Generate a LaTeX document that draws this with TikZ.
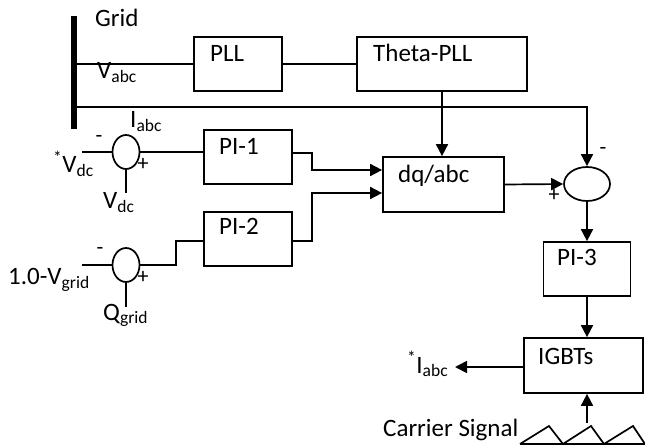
\documentclass[tikz,border=0pt]{standalone}
\usepackage{fontspec}
\setmainfont{Carlito}
\usetikzlibrary{arrows.meta,shapes.geometric}
\begin{document}
\begin{tikzpicture}[x=1pt,y=-1pt,
  every node/.style={font=\fontsize{25}{28}\selectfont},
  ln/.style={line width=1.7pt},
  arr/.style={ln,-{Triangle[length=12pt,width=12pt]}},
  blk/.style={draw,line width=1.7pt,inner sep=0pt},
  sumc/.style={draw,ellipse,line width=1.7pt,inner sep=0pt},
  lbl/.style={anchor=base west,inner sep=0pt},
  sgn/.style={inner sep=0pt,font=\fontsize{22}{24}\selectfont}]
\useasboundingbox (0,0) rectangle (645,446);
% grid bar
\node[fill,inner sep=0pt,minimum width=6pt,minimum height=113pt] (grid) at (74,72.5) {};
\node[lbl] (gridt) at (95,27) {Grid};
% blocks
\node[blk,minimum width=88pt,minimum height=54pt] (pll) at (238,64) {};
\node[lbl] (pllt) at (210,62) {PLL};
\node[blk,minimum width=170pt,minimum height=54pt] (theta) at (442,64) {};
\node[lbl] (thetat) at (373,62) {Theta-PLL};
\node[blk,minimum width=121pt,minimum height=55pt] (dq) at (443.5,184.5) {};
\node[lbl] (dqt) at (398,183) {dq/abc};
\node[blk,minimum width=88pt,minimum height=54pt] (pi1) at (248,157) {};
\node[lbl] (pi1t) at (219,155) {PI-1};
\node[blk,minimum width=88pt,minimum height=54pt] (pi2) at (248,239) {};
\node[lbl] (pi2t) at (219,235) {PI-2};
\node[blk,minimum width=87pt,minimum height=54pt] (pi3) at (587,269) {};
\node[lbl] (pi3t) at (557,266) {PI-3};
\node[blk,minimum width=119pt,minimum height=55pt] (igbt) at (583.5,365.5) {};
\node[lbl] (igbtt) at (538,364) {IGBTs};
% summing junctions
\node[sumc,minimum width=27pt,minimum height=34pt] (s1) at (126,152) {};
\node[sumc,minimum width=27pt,minimum height=34pt] (s2) at (126,265) {};
\node[sumc,minimum width=46pt,minimum height=34pt] (s3) at (587,184) {};
% labels
\node[lbl] (vabc) at (97,79) {V\textsubscript{abc}};
\node[lbl] (iabc) at (130,128) {I\textsubscript{abc}};
\node[lbl] (vdcref) at (53,173) {\textsuperscript{*}V\textsubscript{dc}};
\node[lbl] (vdc) at (103,209) {V\textsubscript{dc}};
\node[lbl] (vgr) at (8,285) {1.0-V\textsubscript{grid}};
\node[lbl] (qgr) at (103,320) {Q\textsubscript{grid}};
\node[lbl] (iref) at (407,373) {\textsuperscript{*}I\textsubscript{abc}};
\node[lbl] (carr) at (383,436) {Carrier Signal};
\node[sgn] (m1) at (99,139) {-};
\node[sgn] (p1) at (143,164) {+};
\node[sgn] (m2) at (100,251) {-};
\node[sgn] (p2) at (143,277) {+};
\node[sgn] (m3) at (603,151) {-};
\node[sgn] (p3) at (554,195) {+};
% free ends
\coordinate (a1) at (82,152);
\coordinate (b1) at (126,193);
\coordinate (a2) at (82,265);
\coordinate (b2) at (126,307);
\coordinate (out) at (455,367);
\coordinate (cs) at (587,423);
% connectors
\draw[ln] (grid.east |- pll.west) -- (pll.west);
\draw[ln] (pll.east) -- (theta.west);
\draw[arr] (grid.east |- 0,107) -- (587,107) -- (s3.north);
\draw[arr] (theta.south) -- (theta.south |- dq.north);
\draw[ln] (a1) -- (s1.west);
\draw[ln] (s1.south) -- (b1);
\draw[ln] (s1.east) -- (pi1.west |- s1.east);
\draw[arr] (pi1.east |- 0,153) -- (312,153) -- (312,170) -- (dq.west |- 0,170);
\draw[ln] (a2) -- (s2.west);
\draw[ln] (s2.south) -- (b2);
\draw[ln] (s2.east) -- (176,265) -- (176,241) -- (pi2.west |- 0,241);
\draw[arr] (pi2.east |- 0,241) -- (312,241) -- (312,193) -- (dq.west |- 0,193);
\draw[arr] (dq.east) -- (s3.west);
\draw[arr] (s3.south) -- (pi3.north);
\draw[arr] (pi3.south) -- (pi3.south |- igbt.north);
\draw[arr] (igbt.west |- out) -- (out);
\draw[arr] (cs) -- (cs |- igbt.south);
% carrier wave
\draw[line width=1.7pt] (520,444) -- (549,426) -- (563,444) -- (591,426) -- (604,444) -- (633,426) -- (645,444);
\draw[line width=2.5pt] (520,444) -- (645,444);
\end{tikzpicture}
\end{document}
